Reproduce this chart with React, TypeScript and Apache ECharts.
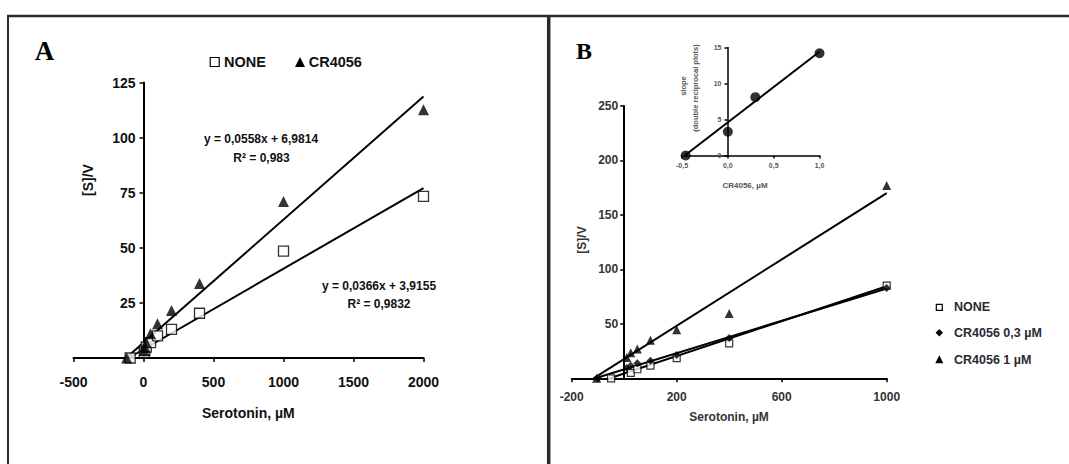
import React, { useEffect, useRef } from "react";
import * as echarts from "echarts";

// ---------- Panel A data ----------
const aNoneX = [-95, 5, 10, 20, 50, 100, 200, 400, 1000, 2000];
const aNoneY = [0, 2.5, 3.5, 5, 7, 10, 13, 20.3, 48.5, 73.3];
const aCrX = [-120, 5, 10, 20, 50, 100, 200, 400, 1000, 2000];
const aCrY = [0, 3.5, 5, 7, 11, 15.5, 21.5, 33.8, 71, 112.6];
const aNoneFitX = [-107, 2000];
const aNoneFitY = [0, 77.1];
const aCrFitX = [-125, 2000];
const aCrFitY = [0, 118.6];
const aXRange = [-500, 2000, 500];
const aYRange = [0, 125, 25];

// ---------- Panel B data ----------
const bNoneX = [-50, 25, 50, 100, 200, 400, 1000];
const bNoneY = [0, 5, 8.3, 11.6, 18.5, 32, 85];
const bCr03X = [-100, 10, 25, 50, 100, 200, 400, 1000];
const bCr03Y = [0, 9.5, 11.5, 13.8, 16, 21.5, 37, 83];
const bCr1X = [-105, 10, 25, 50, 100, 200, 400, 1000];
const bCr1Y = [0, 19, 23.5, 27, 35, 44.5, 59.5, 177];
const bNoneFitX = [-55, 1000];
const bNoneFitY = [0, 84.5];
const bCr03FitX = [-110, 1000];
const bCr03FitY = [0, 82.5];
const bCr1FitX = [-117, 1000];
const bCr1FitY = [0, 170];
const bXRange = [-200, 1000, 400];
const bYRange = [0, 250, 50];

// ---------- Inset data ----------
const insetX = [-0.46, 0, 0.3, 1.0];
const insetY = [0, 3.3, 8.1, 14.2];
const insetFitX = [-0.47, 1.0];
const insetFitY = [0, 14.4];
const insetXRange = [-0.5, 1.0, 0.5];
const insetYRange = [0, 15, 5];

const SANS = "'Liberation Sans', Arial, sans-serif";
const SERIF = "'Liberation Serif', 'Times New Roman', serif";

const zip = (xs: number[], ys: number[]) => xs.map((x, i) => [x, ys[i]]);

function valueAxis(
  gridIndex: number,
  range: number[],
  opts: {
    fontSize: number;
    color: string;
    margin: number;
    hideZero?: boolean;
    fmt?: (v: number) => string;
    lineWidth?: number;
    tickLen?: number;
    offset?: number;
  }
) {
  return {
    type: "value",
    gridIndex,
    min: range[0],
    max: range[1],
    interval: range[2],
    offset: opts.offset ?? 0,
    axisLine: { show: true, onZero: false, lineStyle: { color: "#000", width: opts.lineWidth ?? 2 } },
    axisTick: { show: true, length: opts.tickLen ?? 4, lineStyle: { color: "#000", width: 1.5 } },
    splitLine: { show: false },
    axisLabel: {
      show: true,
      margin: opts.margin,
      fontSize: opts.fontSize,
      fontWeight: "bold",
      fontFamily: SANS,
      color: opts.color,
      showMinLabel: true,
      showMaxLabel: true,
      formatter: (v: number) => {
        if (opts.hideZero && v === 0) return "";
        return opts.fmt ? opts.fmt(v) : String(v);
      },
    },
  };
}

function text(x: number, y: number, t: string, size: number, extra: any = {}) {
  return {
    type: "text",
    x,
    y,
    rotation: extra.rotation ?? 0,
    z: 10,
    style: {
      text: t,
      fontSize: size,
      fontWeight: extra.fontWeight ?? "bold",
      fontFamily: extra.fontFamily ?? SANS,
      fill: extra.fill ?? "#111",
      align: extra.align ?? "center",
      verticalAlign: "middle",
    },
  };
}

function tri(cx: number, cy: number, s: number) {
  return {
    type: "polygon",
    z: 10,
    shape: { points: [[cx, cy - s / 2], [cx + s / 2, cy + s / 2], [cx - s / 2, cy + s / 2]] },
    style: { fill: "#000" },
  };
}

export default function App() {
  const ref = useRef<HTMLDivElement>(null);

  useEffect(() => {
    if (!ref.current) return;
    const chart = echarts.init(ref.current, null, { renderer: "svg" });

    const commaFmt = (v: number) => v.toFixed(1).replace(".", ",");

    const option: any = {
      animation: false,
      backgroundColor: "#fff",
      grid: [
        { left: 73.5, top: 82.5, width: 350, height: 275.5, outerBoundsMode: "none" },
        { left: 571.7, top: 106, width: 315, height: 272.3, outerBoundsMode: "none" },
        { left: 682, top: 47.5, width: 137.5, height: 108, outerBoundsMode: "none" },
      ],
      xAxis: [
        valueAxis(0, aXRange, { fontSize: 14, color: "#111", margin: 17 }),
        valueAxis(1, bXRange, { fontSize: 12, color: "#333", margin: 13 }),
        valueAxis(2, insetXRange, { fontSize: 7, color: "#555", margin: 6, fmt: commaFmt, lineWidth: 1.5, tickLen: 3 }),
      ],
      yAxis: [
        valueAxis(0, aYRange, { fontSize: 14, color: "#111", margin: 8, hideZero: true, offset: -70 }),
        valueAxis(1, bYRange, { fontSize: 12, color: "#333", margin: 6, hideZero: true, offset: -52.5 }),
        valueAxis(2, insetYRange, { fontSize: 7, color: "#555", margin: 6, lineWidth: 1.5, tickLen: 3, offset: -45.5 }),
      ],
      series: [
        // Panel A fit lines
        { type: "line", xAxisIndex: 0, yAxisIndex: 0, data: zip(aNoneFitX, aNoneFitY), symbol: "none", lineStyle: { color: "#000", width: 2 }, z: 2 },
        { type: "line", xAxisIndex: 0, yAxisIndex: 0, data: zip(aCrFitX, aCrFitY), symbol: "none", lineStyle: { color: "#000", width: 2 }, z: 2 },
        // Panel A markers
        { type: "scatter", name: "NONE", xAxisIndex: 0, yAxisIndex: 0, data: zip(aNoneX, aNoneY), symbol: "rect", symbolSize: 10, itemStyle: { color: "#fff", borderColor: "#000", borderWidth: 1.3 }, z: 3 },
        { type: "scatter", name: "CR4056", xAxisIndex: 0, yAxisIndex: 0, data: zip(aCrX, aCrY), symbol: "triangle", symbolSize: 11, itemStyle: { color: "#000" }, z: 4 },
        // Panel B fit lines
        { type: "line", xAxisIndex: 1, yAxisIndex: 1, data: zip(bNoneFitX, bNoneFitY), symbol: "none", lineStyle: { color: "#000", width: 2 }, z: 2 },
        { type: "line", xAxisIndex: 1, yAxisIndex: 1, data: zip(bCr03FitX, bCr03FitY), symbol: "none", lineStyle: { color: "#000", width: 2 }, z: 2 },
        { type: "line", xAxisIndex: 1, yAxisIndex: 1, data: zip(bCr1FitX, bCr1FitY), symbol: "none", lineStyle: { color: "#000", width: 2 }, z: 2 },
        // Panel B markers
        { type: "scatter", name: "NONE", xAxisIndex: 1, yAxisIndex: 1, data: zip(bNoneX, bNoneY), symbol: "rect", symbolSize: 7, itemStyle: { color: "#fff", borderColor: "#000", borderWidth: 1.2 }, z: 3 },
        { type: "scatter", name: "CR4056 0,3 µM", xAxisIndex: 1, yAxisIndex: 1, data: zip(bCr03X, bCr03Y), symbol: "diamond", symbolSize: 8, itemStyle: { color: "#000" }, z: 4 },
        { type: "scatter", name: "CR4056 1 µM", xAxisIndex: 1, yAxisIndex: 1, data: zip(bCr1X, bCr1Y), symbol: "triangle", symbolSize: 9, itemStyle: { color: "#000" }, z: 4 },
        // Inset
        { type: "line", xAxisIndex: 2, yAxisIndex: 2, data: zip(insetFitX, insetFitY), symbol: "none", lineStyle: { color: "#000", width: 2 }, z: 2 },
        { type: "scatter", xAxisIndex: 2, yAxisIndex: 2, data: zip(insetX, insetY), symbol: "circle", symbolSize: 10, itemStyle: { color: "#000" }, z: 4 },
      ],
      graphic: [
        // frame
        { type: "line", shape: { x1: 7, y1: 16, x2: 1069, y2: 16 }, style: { stroke: "#2b2b2b", lineWidth: 2.5 } },
        { type: "line", shape: { x1: 8, y1: 15, x2: 8, y2: 464 }, style: { stroke: "#2b2b2b", lineWidth: 2 } },
        { type: "line", shape: { x1: 548.7, y1: 15, x2: 548.7, y2: 464 }, style: { stroke: "#2b2b2b", lineWidth: 3.5 } },
        // panel letters
        text(44.5, 51, "A", 27, { fontFamily: SERIF, fill: "#000" }),
        text(584, 51, "B", 24, { fontFamily: SERIF, fill: "#000" }),
        // Panel A legend
        { type: "rect", z: 10, shape: { x: 210.2, y: 57.5, width: 9, height: 9 }, style: { fill: "#fff", stroke: "#000", lineWidth: 1.2 } },
        text(224, 62, "NONE", 14.5, { align: "left" }),
        tri(300, 62, 10),
        text(308.7, 62, "CR4056", 14.5, { align: "left" }),
        // Panel A equations
        text(261, 139, "y = 0,0558x + 6,9814", 12),
        text(261.5, 158, "R² = 0,983", 12),
        text(379, 286, "y = 0,0366x + 3,9155", 12),
        text(379, 304, "R² = 0,9832", 12),
        // Panel A axis names
        text(87.7, 180, "[S]/V", 14, { rotation: Math.PI / 2 }),
        text(248.3, 413, "Serotonin, µM", 14),
        // Panel B axis names
        text(581.7, 240, "[S]/V", 12, { rotation: Math.PI / 2, fill: "#333" }),
        text(729, 416.7, "Serotonin, µM", 12, { fill: "#333" }),
        // Panel B legend
        { type: "rect", z: 10, shape: { x: 936.3, y: 304.3, width: 6, height: 6 }, style: { fill: "#fff", stroke: "#000", lineWidth: 1.2 } },
        text(954, 307.3, "NONE", 12.5, { align: "left", fill: "#2a2a35" }),
        { type: "polygon", z: 10, shape: { points: [[939.3, 329], [943, 332.7], [939.3, 336.4], [935.6, 332.7]] }, style: { fill: "#000" } },
        text(954, 333, "CR4056 0,3 µM", 12.5, { align: "left", fill: "#2a2a35" }),
        tri(939.3, 359.3, 8),
        text(954, 359.5, "CR4056 1 µM", 12.5, { align: "left", fill: "#2a2a35" }),
        // Inset axis names
        text(683, 86, "slope", 7.5, { rotation: Math.PI / 2, fill: "#555" }),
        text(695, 88, "(double reciprocal plots)", 7.5, { rotation: Math.PI / 2, fill: "#555" }),
        text(745, 185, "CR4056, µM", 8, { fill: "#555" }),
      ],
    };

    chart.setOption(option);
    return () => chart.dispose();
  }, []);

  return (
    <div
      ref={ref}
      style={{ position: "absolute", left: 0, top: 0, width: 1069, height: 464, background: "#fff" }}
    />
  );
}
